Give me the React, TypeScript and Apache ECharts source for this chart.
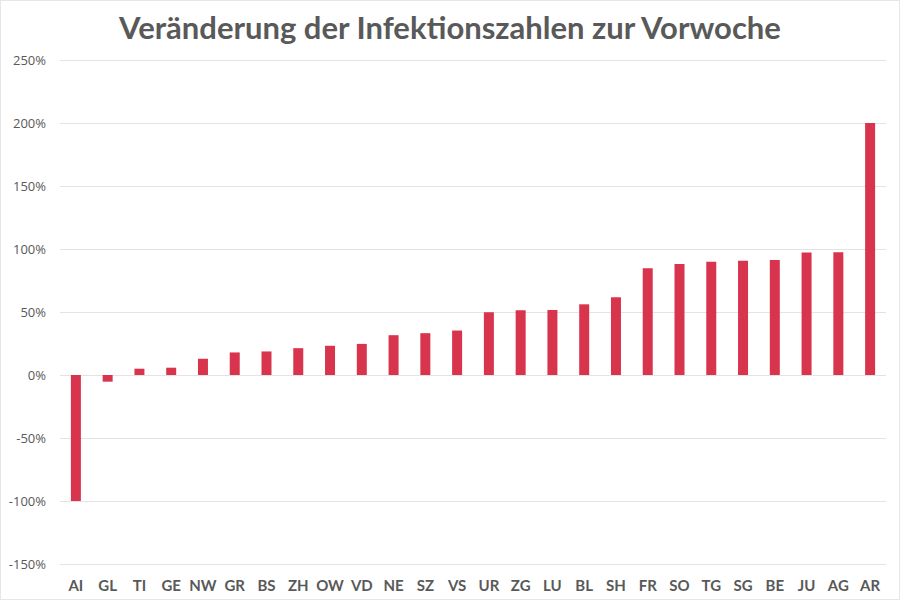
import React, { useEffect, useRef } from "react";
import * as echarts from "echarts";

const TITLE = "Veränderung der Infektionszahlen zur Vorwoche";
const CANTONS = ["AI", "GL", "TI", "GE", "NW", "GR", "BS", "ZH", "OW", "VD", "NE", "SZ", "VS", "UR", "ZG", "LU", "BL", "SH", "FR", "SO", "TG", "SG", "BE", "JU", "AG", "AR"];
const CHANGE_PCT = [-100, -5.3, 5, 5.8, 12.9, 17.9, 18.7, 21.3, 23.2, 24.7, 31.6, 33.2, 35.3, 49.8, 51.4, 51.6, 56.1, 61.7, 84.8, 88, 89.8, 90.6, 91.2, 97.2, 97.5, 200];
const Y_MIN = -150;
const Y_MAX = 250;
const Y_STEP = 50;

export default function App() {
  const ref = useRef<HTMLDivElement>(null);
  useEffect(() => {
    if (!ref.current) return;
    const chart = echarts.init(ref.current, null, { renderer: "svg" });
    chart.setOption({
      animation: false,
      backgroundColor: "#ffffff",
      title: {
        text: TITLE,
        left: "center",
        top: 5,
        textStyle: {
          fontFamily: "Lato",
          fontWeight: "bold",
          fontSize: 31,
          color: "#595959",
        },
      },
      grid: { left: 59, right: 13, top: 59, bottom: 35, containLabel: false },
      xAxis: {
        type: "category",
        data: CANTONS,
        axisLine: { show: false },
        axisTick: { show: false },
        axisLabel: {
          fontFamily: "Lato",
          fontWeight: "bold",
          fontSize: 15,
          color: "#595959",
          margin: 13,
          interval: 0,
        },
      },
      yAxis: {
        type: "value",
        min: Y_MIN,
        max: Y_MAX,
        interval: Y_STEP,
        axisLine: { show: false },
        axisTick: { show: false },
        splitLine: { lineStyle: { color: "#e3e3e3", width: 1 } },
        axisLabel: {
          fontFamily: "Open Sans",
          fontSize: 13,
          color: "#595959",
          margin: 14,
          formatter: (v: number) => `${v}%`,
        },
      },
      series: [
        {
          type: "bar",
          data: CHANGE_PCT,
          barWidth: 10,
          itemStyle: { color: "#d9344e" },
        },
      ],
    });
    return () => chart.dispose();
  }, []);
  return (
    <div
      ref={ref}
      style={{ width: 900, height: 600, position: "absolute", left: 0, top: 0, boxSizing: "border-box", border: "1px solid #e6e6e6" }}
    />
  );
}
